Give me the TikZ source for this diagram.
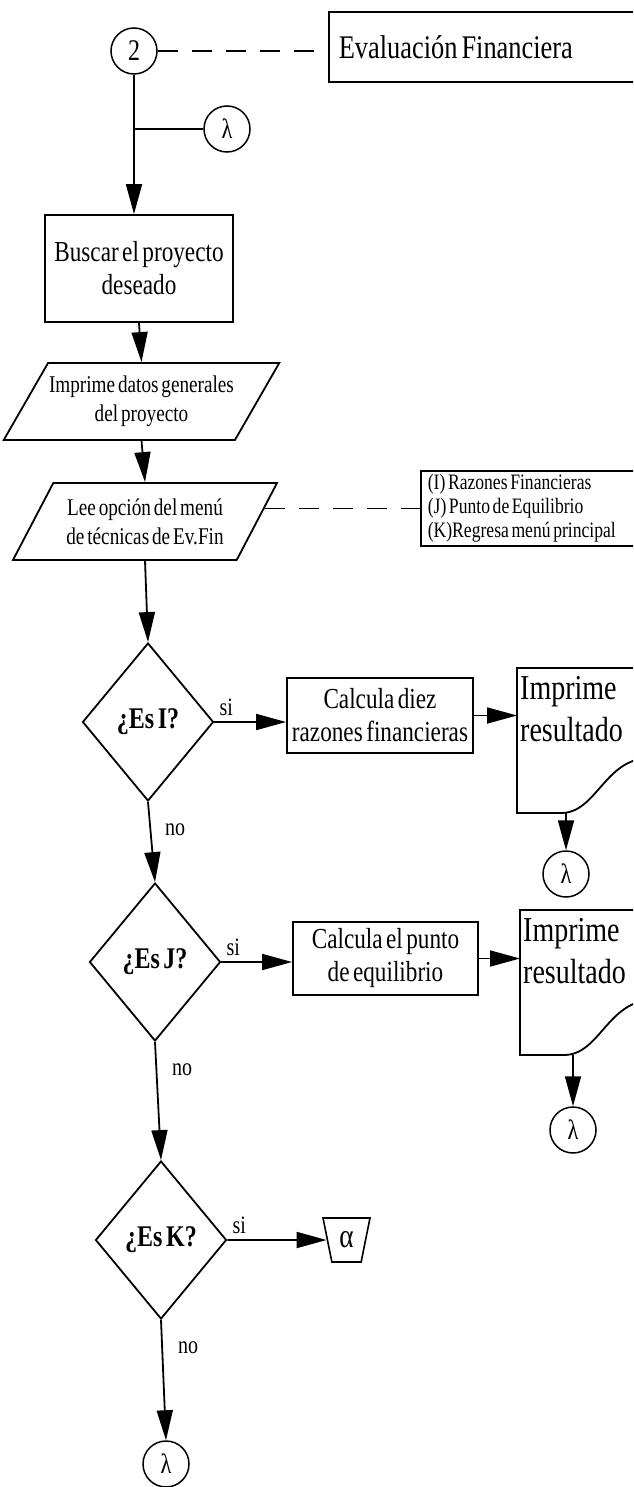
\documentclass[tikz,border=0pt]{standalone}
\usepackage{fontspec}
\setmainfont{Liberation Serif}[FakeStretch=0.8, WordSpace=0.6]
\usetikzlibrary{arrows.meta, positioning, calc, shapes.geometric}
\tikzset{
  process/.style={draw, line width=1.8pt, minimum width=186pt, minimum height=75pt, align=center, inner sep=2pt, font=\fontsize{29}{33}\selectfont},
  io/.style={draw, trapezium, trapezium left angle=50, trapezium right angle=130, trapezium stretches body, minimum width=264pt, minimum height=77pt, line width=1.8pt, align=center, inner sep=1pt, font=\fontsize{24}{29}\selectfont},
  decision/.style={draw, diamond, line width=1.8pt, minimum width=131pt, minimum height=158pt, inner sep=0pt, font=\bfseries\fontsize{30}{32}\selectfont},
  connector/.style={draw, circle, line width=1.5pt, minimum size=46pt, inner sep=0pt, font=\fontsize{28}{28}\selectfont},
  offpage/.style={draw, trapezium, shape border rotate=180, trapezium angle=75, trapezium stretches=true, minimum width=47pt, minimum height=44pt, inner sep=1pt, line width=1.6pt, font=\fontsize{34}{34}\selectfont},
  callout/.style={draw, anchor=west, align=left, line width=1.6pt, inner xsep=10pt,
    execute at begin node={\spaceskip=0pt\relax\xspaceskip=0pt\relax}},
  printdoc/.style={anchor=north west, align=left, inner xsep=3pt, inner ysep=8pt, font=\fontsize{35}{42}\selectfont},
  answer/.style={inner sep=0pt, font=\fontsize{25}{25}\selectfont},
  wire/.style={line width=1.8pt},
  link/.style={-{Triangle[length=30pt, width=16pt]}, line width=1.8pt},
  dashlink/.style={dash pattern=on 20pt off 14pt, line width=1.2pt}
}
% printed document outline round a text node, wavy bottom edge
\newcommand{\docoutline}[1]{%
  \draw[line width=1.8pt] (#1.north west) -- ($(#1.north west)+(133,0)$) -- ($(#1.north west)+(133,90)$)
    .. controls ($(#1.north west)+(88,90)$) and ($(#1.north west)+(80,144)$) .. ($(#1.north west)+(45,145)$)
    -- ($(#1.north west)+(0,145)$) -- cycle;
  \coordinate (#1-base) at ($(#1.north west)+(45,145)$);
}
\begin{document}
\begin{tikzpicture}[x=1pt, y=-1pt]
    \useasboundingbox (0,0) rectangle (633,1487);
    \clip (0,0) rectangle (633,1487);

    % Header
    \node[connector, font=\fontsize{30}{30}\selectfont] (two) at (134,51) {2};
    \node[callout, font=\fontsize{33}{36}\selectfont, text width=300pt, minimum height=70pt] (evalfin) at (328,47) {Evaluación Financiera};
    \draw[dashlink] (two.east) -- (two.east -| evalfin.west);
    \node[connector] (lam0) at (227,129) {λ};

    % Project selection and menu
    \node[process, minimum width=188pt, minimum height=107pt] (buscar) at (139,268.5) {Buscar el proyecto\\deseado};
    \node[io] (imprime) at (141.5,401.5) {Imprime datos generales\\del proyecto};
    \node[io] (lee) at (145,521.5) {Lee opción del menú\\de técnicas de Ev.Fin};
    \node[callout, font=\fontsize{22}{24}\selectfont, text width=205pt, minimum height=73pt, inner xsep=7pt] (menu) at (420,508.5) {(I) Razones Financieras\\(J) Punto de Equilibrio\\(K)Regresa menú principal};

    % Decisions
    \node[decision] (esI) at (148,722) {¿Es I?};
    \node[process] (razones) at (380,715.5) {Calcula diez\\razones financieras};
    \node[printdoc] (res1) at (517,668) {Imprime\\resultado};
    \docoutline{res1}
    \node[connector] (lam1) at (566,874) {λ};

    \node[decision] (esJ) at (155,962) {¿Es J?};
    \node[process, minimum width=185pt, minimum height=73pt] (equilibrio) at (385.5,958.5) {Calcula el punto\\de equilibrio};
    \node[printdoc] (res2) at (520,910) {Imprime\\resultado};
    \docoutline{res2}
    \node[connector] (lam2) at (573,1130) {λ};

    \node[decision] (esK) at (161,1240) {¿Es K?};
    \node[offpage] (alfa) at (346.5,1240) {α};
    \node[connector] (lam3) at (166,1464) {λ};

    % Answers
    \node[answer, above right=6pt and 5pt of esI.east] (si1) {si};
    \node[answer, below right=22pt and 17pt of esI.south] (no1) {no};
    \node[answer, above right=6pt and 5pt of esJ.east] (si2) {si};
    \node[answer, below right=22pt and 17pt of esJ.south] (no2) {no};
    \node[answer, above right=6pt and 5pt of esK.east] (si3) {si};
    \node[answer, below right=22pt and 17pt of esK.south] (no3) {no};

    % Links
    \coordinate (split) at (two.south |- lam0.west);
    \draw[wire] (two.south) -- (split) -- (lam0.west);
    \draw[link] (split) -- (split |- buscar.north);
    \draw[link] (buscar.south) -- (imprime.north);
    \draw[link] (imprime.south) -- (lee.north);
    \coordinate (leeport) at ($(lee.top right corner)!0.33!(lee.bottom right corner)$);
    \draw[dashlink] (leeport) -- (leeport -| menu.west);
    \draw[link] (lee.south) -- (esI.north);

    \draw[link] (esI.east) -- (esI.east -| razones.west);
    \draw[link] (razones.east) -- (razones.east -| res1.west);
    \draw[link] (lam1.north |- res1-base) -- (lam1.north);
    \draw[link] (esI.south) -- (esJ.north);

    \draw[link] (esJ.east) -- (esJ.east -| equilibrio.west);
    \draw[link] (equilibrio.east) -- (equilibrio.east -| res2.west);
    \draw[link] (lam2.north |- res2-base) -- (lam2.north);
    \draw[link] (esJ.south) -- (esK.north);

    \draw[link] (esK.east) -- (alfa.west);
    \draw[link] (esK.south) -- (lam3.north);
\end{tikzpicture}
\end{document}
